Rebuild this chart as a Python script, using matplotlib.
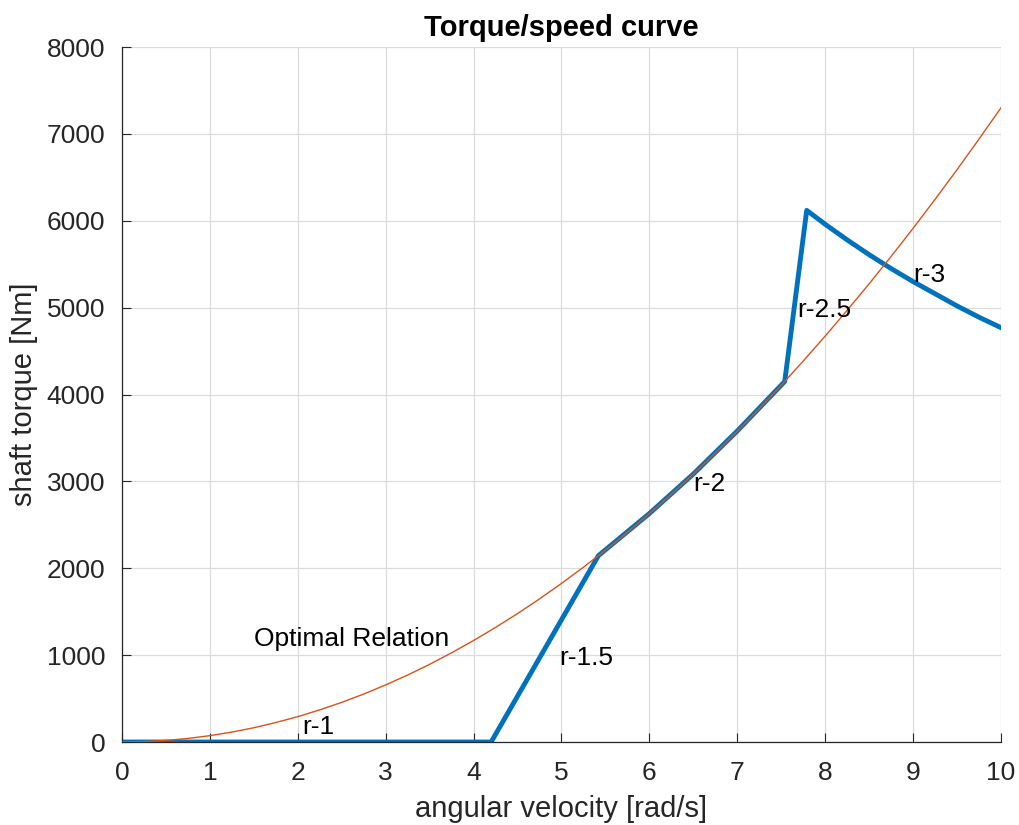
import numpy as np
import matplotlib.pyplot as plt

plt.rcParams['font.family'] = ['Liberation Sans', 'DejaVu Sans']

# optimal relation (every 0.25 rad/s)
opt_speed = [0, 0.25, 0.5, 0.75, 1, 1.25, 1.5, 1.75, 2, 2.25, 2.5, 2.75,
             3, 3.25, 3.5, 3.75, 4, 4.25, 4.5, 4.75, 5, 5.25, 5.5, 5.75,
             6, 6.25, 6.5, 6.75, 7, 7.25, 7.5, 7.75, 8, 8.25, 8.5, 8.75,
             9, 9.25, 9.5, 9.75, 10]
opt_torque = [0, 5, 18, 41, 73, 114, 164, 224, 292, 370, 456, 552,
              657, 771, 894, 1027, 1168, 1319, 1478, 1647, 1825, 2012,
              2208, 2414, 2628, 2852, 3084, 3326, 3577, 3837, 4106, 4385,
              4672, 4969, 5274, 5589, 5913, 6246, 6588, 6940, 7300]

# controller curve
ctrl_speed = [0, 4.2, 5.42, 6.0, 6.5, 7.0, 7.54, 7.79, 8.0, 8.25, 8.5, 8.75,
              9.0, 9.25, 9.5, 9.75, 10]
ctrl_torque = [0, 0, 2145, 2630, 3085, 3580, 4150, 6120, 5960, 5780, 5610,
               5450, 5300, 5160, 5020, 4890, 4770]

labels = ["Optimal Relation", "r-1", "r-1.5", "r-2", "r-2.5", "r-3"]
label_x = [1.5, 2.05, 4.98, 6.5, 7.68, 9.0]
label_y = [1180, 170, 970, 2970, 4970, 5380]

fig = plt.figure(figsize=(10.19, 8.25), dpi=100)
ax = fig.add_axes([0.1197, 0.1006, 0.8626, 0.8424])

ax.plot(opt_speed, opt_torque, color="#D95319", lw=1.0, zorder=3)
ax.plot(ctrl_speed, ctrl_torque, color="#0072BD", lw=3.5, zorder=2)

for s, x, y in zip(labels, label_x, label_y):
    ax.text(x, y, s, fontsize=19, ha="left", va="center", color="#000000",
            zorder=4)

ax.set_xlim(0, 10)
ax.set_ylim(0, 8000)
ax.set_xticks(np.arange(0, 11, 1))
ax.set_yticks(np.arange(0, 8001, 1000))
ax.grid(True, color="#dcdcdc", lw=0.9)
ax.set_axisbelow(True)

for side in ["top", "right"]:
    ax.spines[side].set_visible(False)
for side in ["left", "bottom"]:
    ax.spines[side].set_color("#262626")
    ax.spines[side].set_linewidth(0.9)

ax.tick_params(direction="in", length=6.5, width=0.8, colors="#262626",
               labelsize=19)
ax.tick_params(axis="y", pad=12)
ax.tick_params(axis="x", pad=14)
ax.set_xlabel("angular velocity [rad/s]", fontsize=21, color="#262626",
              labelpad=7)
ax.set_ylabel("shaft torque [Nm]", fontsize=21, color="#262626", labelpad=6)
ax.set_title("Torque/speed curve", fontsize=21, fontweight="bold", pad=8)

fig.savefig("out.png", dpi=100)
